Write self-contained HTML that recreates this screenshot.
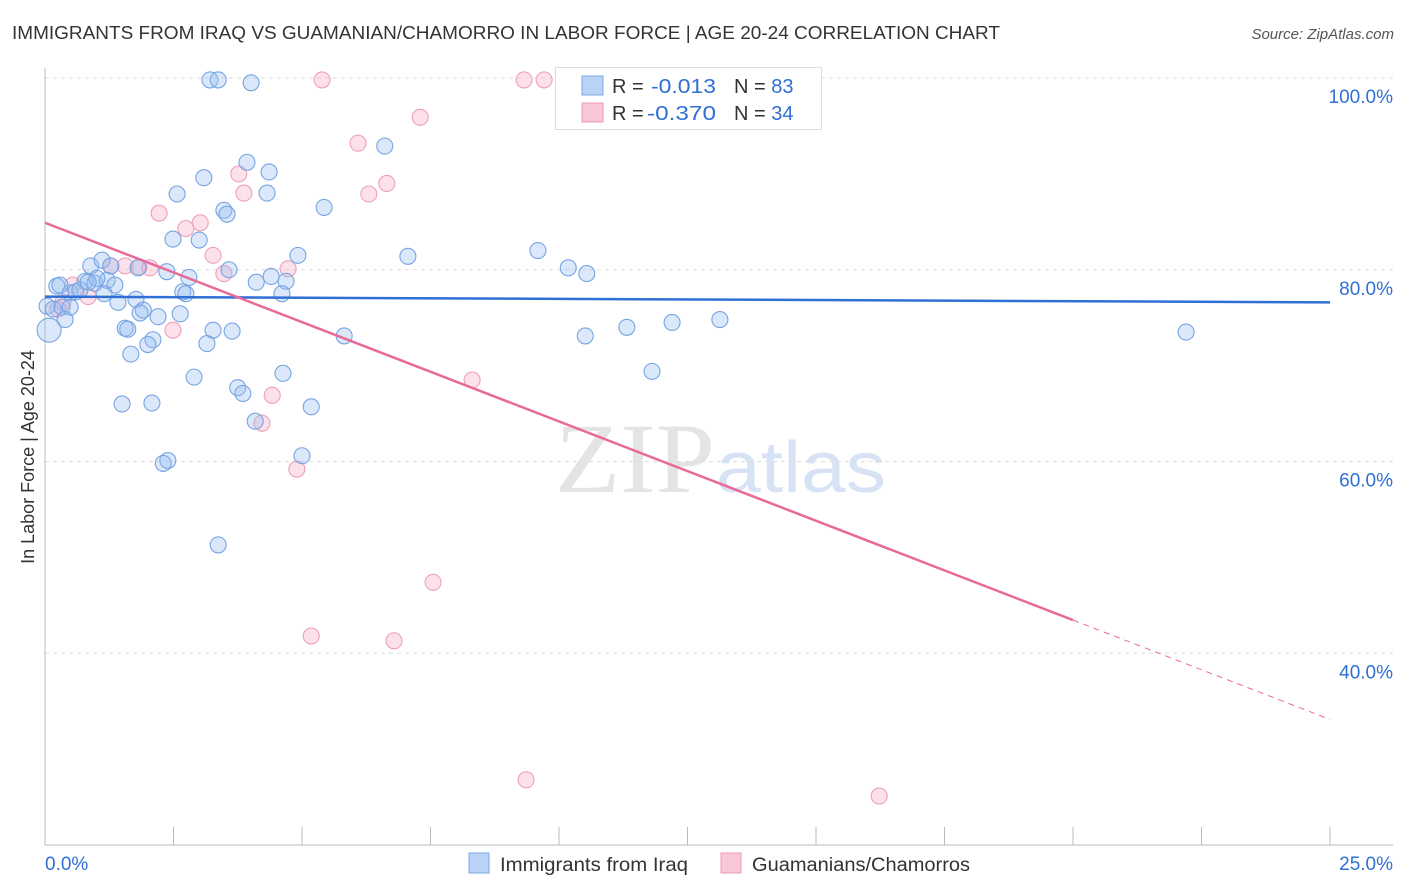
<!DOCTYPE html>
<html><head><meta charset="utf-8"><style>
body{margin:0;background:#fff;width:1406px;height:892px;overflow:hidden;font-family:"Liberation Sans",sans-serif}
svg{position:absolute;left:0;top:0}
</style></head><body>
<svg id="chart" width="1406" height="892" font-family="Liberation Sans, sans-serif">
<text x="12" y="39" font-size="18" fill="#333" textLength="988" lengthAdjust="spacingAndGlyphs">IMMIGRANTS FROM IRAQ VS GUAMANIAN/CHAMORRO IN LABOR FORCE | AGE 20-24 CORRELATION CHART</text>
<text x="1394" y="39" font-size="15" fill="#555" font-style="italic" text-anchor="end">Source: ZipAtlas.com</text>
<text x="555" y="492" font-size="100" fill="#e4e4e4" textLength="160" lengthAdjust="spacingAndGlyphs" font-family="Liberation Serif, serif">ZIP</text>
<text x="716" y="492" font-size="72" fill="#d7e3f4" textLength="170" lengthAdjust="spacingAndGlyphs">atlas</text>
<text transform="translate(34,457) rotate(-90)" font-size="18" fill="#333" text-anchor="middle">In Labor Force | Age 20-24</text>
<g id="grid"></g><g id="pts"></g><g id="lines"></g>
<g>
<rect x="555.5" y="67.5" width="266" height="62" fill="#fff" stroke="#ddd"/>
<rect x="582" y="76" width="21" height="19" fill="#b8d3f5" stroke="#7ea9e6"/>
<rect x="582" y="103" width="21" height="19" fill="#f8c6d6" stroke="#eb9ab6"/>
<text x="612" y="93" font-size="20" fill="#333">R = </text>
<text x="651" y="93" font-size="20" fill="#2f6fd6" textLength="65" lengthAdjust="spacingAndGlyphs">-0.013</text>
<text x="734" y="93" font-size="20" fill="#333">N = <tspan fill="#2f6fd6">83</tspan></text>
<text x="612" y="120" font-size="20" fill="#333">R = </text>
<text x="647" y="120" font-size="20" fill="#2f6fd6" textLength="69" lengthAdjust="spacingAndGlyphs">-0.370</text>
<text x="734" y="120" font-size="20" fill="#333">N = <tspan fill="#2f6fd6">34</tspan></text>
</g>
<g>
<rect x="469" y="853" width="20" height="20" fill="#b8d3f5" stroke="#7ea9e6"/>
<text x="500" y="871" font-size="19" fill="#333" textLength="188" lengthAdjust="spacingAndGlyphs">Immigrants from Iraq</text>
<rect x="721" y="853" width="20" height="20" fill="#f8c6d6" stroke="#eb9ab6"/>
<text x="752" y="871" font-size="19" fill="#333" textLength="218" lengthAdjust="spacingAndGlyphs">Guamanians/Chamorros</text>
</g>
</svg>
<script>
const xTicks=[0,2.5,5,7.5,10,12.5,15,17.5,20,22.5,25];
const yTicks=[40,60,80,100];
const yTickLabels=["40.0%","60.0%","80.0%","100.0%"];
const iraqX=[3.21,3.37,4.01,6.61,3.93,4.36,3.09,2.57,4.32,3.48,3.54,5.43,2.49,3.00,4.92,7.06,9.59,10.18,10.54,3.58,4.40,4.69,4.11,4.61,2.37,2.80,2.68,2.74,1.81,0.89,1.11,0.23,0.49,0.78,0.97,1.21,1.36,0.60,1.15,1.42,1.77,1.91,2.20,2.63,0.04,0.16,0.33,0.49,0.39,1.56,1.61,3.27,3.64,5.82,10.51,11.32,12.20,13.13,22.2,2.10,2.00,1.67,3.15,4.63,2.90,3.75,3.85,11.81,1.50,2.08,5.18,4.09,5.00,2.39,2.30,3.37,0.08,0.29,1.28,1.01,0.68,1.85,0.84];
const iraqY=[99.8,99.8,99.5,92.9,91.2,90.2,89.6,87.9,88.0,86.2,85.8,86.5,83.2,83.1,81.5,81.4,82.0,80.2,79.6,80.0,79.3,78.8,78.7,77.5,79.8,79.2,77.7,77.5,80.2,80.4,81.0,78.3,77.6,78.8,78.6,78.9,78.4,77.7,77.5,76.6,76.9,75.8,75.1,75.4,76.2,75.9,76.1,76.1,74.8,73.9,73.8,73.7,73.6,73.1,73.1,74.0,74.5,74.8,73.5,72.7,72.2,71.2,72.3,69.2,68.8,67.7,67.1,69.4,66.0,66.1,65.7,64.2,60.6,60.1,59.8,51.3,73.7,78.4,80.4,79.1,77.9,75.5,78.7];
const guamX=[5.39,9.32,9.71,7.30,6.09,6.65,6.30,3.87,3.77,2.22,3.02,2.74,3.27,4.73,3.48,1.28,1.56,1.83,2.04,0.54,0.84,0.25,0.35,2.49,8.31,4.42,4.22,4.90,7.55,5.18,6.79,9.36,16.23];
const guamY=[99.8,99.8,99.8,95.9,93.2,89.0,87.9,88.0,90.0,85.9,84.9,84.3,81.5,80.1,79.6,80.4,80.4,80.3,80.2,78.4,77.2,75.9,76.6,73.7,68.5,66.9,64.0,59.2,47.4,41.8,41.3,26.8,25.1];
const iraqTrend=[77.2,76.6];
const guamTrend=[84.9,33.1];
const guamSolidEnd=20;
const NS="http://www.w3.org/2000/svg";
const X=v=>45+v/25*1285;
const Y=v=>78+(100-v)*9.5875;
function mk(tag,attrs,parent){const e=document.createElementNS(NS,tag);for(const k in attrs)e.setAttribute(k,attrs[k]);parent.appendChild(e);return e;}
const grid=document.getElementById('grid');
yTicks.forEach((t,i)=>{
 const l=mk('line',{x1:45,x2:1393,y1:Y(t),y2:Y(t),stroke:'#ddd','stroke-dasharray':'4,4'},grid);
 
 
 const tx=mk('text',{x:1393,y:Y(t)+25,'font-size':19,fill:'#2f6fd6','text-anchor':'end'},grid);
 tx.textContent=yTickLabels[i];
 
 
});
const ax=mk('line',{x1:45,x2:1393,y1:845,y2:845,stroke:'#bbb'},grid);


const ay=mk('line',{x1:45,x2:45,y1:68,y2:845,stroke:'#bbb'},grid);


xTicks.forEach(t=>{if(t===0)return;
 const l=mk('line',{x1:X(t),x2:X(t),y1:827,y2:845,stroke:'#bbb'},grid);
 
 
});
const x0=mk('text',{x:45,y:870,'font-size':19,fill:'#2f6fd6'},grid);x0.textContent='0.0%';


const x1=mk('text',{x:1393,y:870,'font-size':19,fill:'#2f6fd6','text-anchor':'end'},grid);x1.textContent='25.0%';


const pts=document.getElementById('pts');
guamX.forEach((v,i)=>{
 const c=mk('circle',{cx:X(v),cy:Y(guamY[i]),r:8,fill:'rgba(245,170,195,0.35)',stroke:'#ef9fbb','stroke-width':1.1},pts);
 
 
});
iraqX.forEach((v,i)=>{
 const c=mk('circle',{cx:X(v),cy:Y(iraqY[i]),r:(i===76?12:8),fill:'rgba(150,188,240,0.35)',stroke:'#78a4e3','stroke-width':1.1},pts);
 
 
});
const lines=document.getElementById('lines');
const bl=mk('line',{x1:X(0),y1:Y(iraqTrend[0]),x2:X(25),y2:Y(iraqTrend[1]),stroke:'#2f6fd6','stroke-width':2.5},lines);


const gy=x=>guamTrend[0]+(guamTrend[1]-guamTrend[0])*x/25;
const pl=mk('line',{x1:X(0),y1:Y(gy(0)),x2:X(guamSolidEnd),y2:Y(gy(guamSolidEnd)),stroke:'#e8699a','stroke-width':2.5},lines);


const pd=mk('line',{x1:X(guamSolidEnd),y1:Y(gy(guamSolidEnd)),x2:X(25),y2:Y(gy(25)),stroke:'#e8699a','stroke-width':1,'stroke-dasharray':'6,5'},lines);


</script>
</body></html>
